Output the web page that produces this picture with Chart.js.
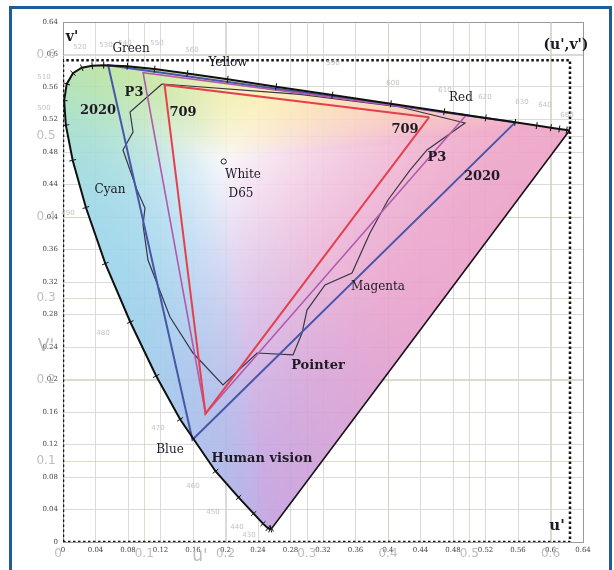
<!DOCTYPE html>
<html>
<head>
<meta charset="utf-8">
<script src="https://cdn.jsdelivr.net/npm/chart.js@4.4.1/dist/chart.umd.min.js"></script>
<style>
  html, body { margin: 0; padding: 0; background: #fff; overflow: hidden; }
  #wrap { position: relative; width: 614px; height: 570px; }
  #frame { position: absolute; left: 9px; top: 6px; width: 597px; height: 620px; border: 3px solid #1d5d9b; }
  canvas { position: absolute; left: 0; top: 0; }
</style>
</head>
<body>
<div id="wrap"><div id="frame"></div><canvas id="c" width="614" height="570"></canvas></div>
<script>
// CIE 1976 spectral locus (u', v') by wavelength in nm
const wavelengths = [380,400,410,420,430,440,450,460,470,475,480,485,490,495,500,505,510,515,520,525,530,540,550,560,570,580,590,600,610,620,630,640,650,660,680,700];
const locusU = [0.2568,0.2557,0.2545,0.2522,0.2461,0.2347,0.2161,0.1877,0.1441,0.1147,0.0828,0.0521,0.0282,0.0119,0.0035,0.0014,0.0046,0.0123,0.0231,0.0360,0.0501,0.0792,0.1127,0.1531,0.2026,0.2623,0.3315,0.4035,0.4692,0.5203,0.5565,0.5830,0.6005,0.6109,0.6199,0.6234];
const locusV = [0.0166,0.0159,0.0159,0.0169,0.0226,0.0350,0.0549,0.0871,0.1510,0.2044,0.2708,0.3427,0.4117,0.4698,0.5131,0.5432,0.5638,0.5770,0.5837,0.5861,0.5868,0.5856,0.5821,0.5766,0.5694,0.5604,0.5501,0.5393,0.5296,0.5219,0.5165,0.5125,0.5099,0.5084,0.5070,0.5065];

// Gamut primaries R, G, B (closed)
const gamut709U  = [0.4507, 0.1250, 0.1754, 0.4507];
const gamut709V  = [0.5229, 0.5625, 0.1579, 0.5229];
const gamutP3U   = [0.4964, 0.0986, 0.1754, 0.4964];
const gamutP3V   = [0.5255, 0.5777, 0.1579, 0.5255];
const gamut2020U = [0.5566, 0.0556, 0.1593, 0.5566];
const gamut2020V = [0.5165, 0.5868, 0.1258, 0.5165];

// Pointer's gamut of real surface colours (closed)
const pointerU = [0.1218,0.0825,0.0862,0.0738,0.0911,0.1009,0.0985,0.1046,0.1317,0.1600,0.1969,0.2388,0.2831,0.2942,0.3003,0.3225,0.3557,0.3778,0.4000,0.4271,0.4480,0.4948,0.4148,0.2917,0.1218];
const pointerV = [0.5637,0.5292,0.5046,0.4825,0.4332,0.4111,0.3902,0.3471,0.2769,0.2326,0.1932,0.2326,0.2302,0.2572,0.2855,0.3163,0.3311,0.3803,0.4209,0.4578,0.4825,0.5157,0.5354,0.5510,0.5637];

// D65 white point
const whiteU = [0.1978];
const whiteV = [0.4683];

// Dotted bounding box of the locus
const boxU = [0, 0.624, 0.624, 0, 0];
const boxV = [0, 0, 0.593, 0.593, 0];

// Axis ticks
const axisMax = 0.64;
const tickStep = 0.04;
const coarseTicks = [0, 0.1, 0.2, 0.3, 0.4, 0.5, 0.6];

// Wavelength marks printed along the locus
const nmLabels = ['520','530','540','550','560','590','600','610','620','630','640','680','510','500','490','480','470','460','450','440','430'];
const nmU = [0.0209,0.0529,0.0763,0.1157,0.1588,0.3323,0.4062,0.4702,0.5194,0.5649,0.5932,0.6203,-0.0234,-0.0234,0.0062,0.0492,0.1169,0.1600,0.1846,0.2142,0.2289];
const nmV = [0.6092,0.6117,0.6142,0.6142,0.6055,0.5895,0.5649,0.5563,0.5477,0.5415,0.5378,0.5255,0.5723,0.5341,0.4049,0.2572,0.1403,0.0689,0.0369,0.0185,0.0086];

// Pastel tint of each locus point used for the shaded fill
const locusTint = [
  [196,160,222],[196,160,222],[196,160,222],[194,162,224],[190,165,226],[185,170,228],[178,176,230],[172,184,232],
  [165,194,235],[160,202,236],[156,208,236],[155,212,235],[157,216,230],[160,219,218],[165,222,204],[170,224,190],
  [174,225,178],[178,226,170],[181,226,166],[184,227,164],[187,228,163],[194,229,163],[205,231,165],[222,235,168],
  [242,240,175],[252,238,180],[252,225,182],[250,210,186],[247,196,190],[243,182,194],[240,170,196],[238,164,197],
  [238,162,197],[238,162,197],[238,162,197],[238,162,197]
];

const pts = (us, vs) => us.map((u, i) => ({ x: u, y: vs[i] }));

// Tick marks across the locus: rotate a short line perpendicular to the curve
const tickRotation = locusU.map((u, i) => {
  const a = Math.max(0, i - 1), b = Math.min(locusU.length - 1, i + 1);
  const ang = Math.atan2(-(locusV[b] - locusV[a]), locusU[b] - locusU[a]);
  return ang * 180 / Math.PI + 90;
});

const serif = '"DejaVu Serif", serif';
const notes = [
  { t: 'Green', u: 0.0837, v: 0.6068, font: '12px ' + serif },
  { t: 'Yellow', u: 0.2031, v: 0.5895, font: '12px ' + serif },
  { t: 'Red', u: 0.4898, v: 0.5465, font: '12px ' + serif },
  { t: '2020', u: 0.0431, v: 0.5305, font: 'bold 13px ' + serif },
  { t: 'P3', u: 0.0874, v: 0.5526, font: 'bold 13px ' + serif },
  { t: '709', u: 0.1477, v: 0.5280, font: 'bold 13px ' + serif },
  { t: '709', u: 0.4209, v: 0.5071, font: 'bold 13px ' + serif },
  { t: 'P3', u: 0.4603, v: 0.4726, font: 'bold 13px ' + serif },
  { t: '2020', u: 0.5157, v: 0.4492, font: 'bold 13px ' + serif },
  { t: 'White', u: 0.2215, v: 0.4517, font: '12px ' + serif },
  { t: 'D65', u: 0.2191, v: 0.4283, font: '12px ' + serif },
  { t: 'Cyan', u: 0.0578, v: 0.4332, font: '12px ' + serif },
  { t: 'Magenta', u: 0.3877, v: 0.3138, font: '12px ' + serif },
  { t: 'Pointer', u: 0.3138, v: 0.2166, font: 'bold 13px ' + serif },
  { t: 'Blue', u: 0.1317, v: 0.1132, font: '12px ' + serif },
  { t: 'Human vision', u: 0.2449, v: 0.1022, font: 'bold 13px ' + serif },
  { t: "v'", u: 0.0111, v: 0.6215, font: 'bold 14px ' + serif },
  { t: "(u',v')", u: 0.6190, v: 0.6117, font: 'bold 14px ' + serif },
  { t: "u'", u: 0.6080, v: 0.0197, font: 'bold 15px ' + serif }
];

const fmt = v => String(parseFloat(v.toFixed(2)));
const near = (a, b) => Math.abs(a - b) < 1e-6;

// Shaded chromaticity fill, clipped to the locus and the line of purples
const chromaFill = {
  id: 'chromaFill',
  beforeDatasetsDraw(chart) {
    const { ctx, chartArea: a, scales: { x, y } } = chart;

    // coarse 0.1 grid
    ctx.save();
    ctx.strokeStyle = 'rgba(205,210,180,0.75)';
    ctx.lineWidth = 1;
    coarseTicks.forEach(t => {
      if (t === 0) return;
      const px = Math.round(x.getPixelForValue(t)) + 0.5;
      const py = Math.round(y.getPixelForValue(t)) + 0.5;
      ctx.beginPath(); ctx.moveTo(px, a.top); ctx.lineTo(px, a.bottom); ctx.stroke();
      ctx.beginPath(); ctx.moveTo(a.left, py); ctx.lineTo(a.right, py); ctx.stroke();
    });
    ctx.restore();

    const P = locusU.map((u, i) => ({ x: x.getPixelForValue(u), y: y.getPixelForValue(locusV[i]), c: locusTint[i] }));
    const wx = x.getPixelForValue(whiteU[0]), wy = y.getPixelForValue(whiteV[0]);
    const n = P.length;
    const BINS = 2048;
    const lutR = new Float32Array(BINS), lutC = new Float32Array(BINS * 3);
    for (let b = 0; b < BINS; b++) {
      const ang = -Math.PI + (b + 0.5) * 2 * Math.PI / BINS;
      const dx = Math.cos(ang), dy = Math.sin(ang);
      let best = Infinity, col = [250, 250, 252];
      for (let i = 0; i < n; i++) {
        const p = P[i], q = P[(i + 1) % n];
        const ex = q.x - p.x, ey = q.y - p.y;
        const den = dx * ey - dy * ex;
        if (Math.abs(den) < 1e-9) continue;
        const px = p.x - wx, py = p.y - wy;
        const t = (px * ey - py * ex) / den;
        const s = (px * dy - py * dx) / den;
        if (t > 0 && s >= 0 && s <= 1 && t < best) {
          best = t;
          let cq = q.c;
          // the line of purples passes through a pink magenta midway
          if (i === n - 1) {
            const mid = [232, 160, 204];
            col = s < 0.5
              ? [0, 1, 2].map(k => p.c[k] + (mid[k] - p.c[k]) * s * 2)
              : [0, 1, 2].map(k => mid[k] + (cq[k] - mid[k]) * (s - 0.5) * 2);
          } else {
            col = [0, 1, 2].map(k => p.c[k] + (cq[k] - p.c[k]) * s);
          }
        }
      }
      lutR[b] = best === Infinity ? 1 : best;
      lutC[b * 3] = col[0]; lutC[b * 3 + 1] = col[1]; lutC[b * 3 + 2] = col[2];
    }
    const W = Math.round(a.right - a.left), H = Math.round(a.bottom - a.top);
    const off = document.createElement('canvas');
    off.width = W; off.height = H;
    const octx = off.getContext('2d');
    const img = octx.createImageData(W, H);
    const d = img.data;
    const base = [248, 246, 252];
    for (let j = 0; j < H; j++) {
      for (let i = 0; i < W; i++) {
        const px = a.left + i + 0.5 - wx, py = a.top + j + 0.5 - wy;
        let b = Math.floor((Math.atan2(py, px) + Math.PI) / (2 * Math.PI) * BINS);
        if (b >= BINS) b = BINS - 1;
        const f = Math.min(1, Math.hypot(px, py) / lutR[b]);
        const e = 1 - Math.pow(1 - f, 1.8);
        const k = (j * W + i) * 4;
        d[k] = base[0] + (lutC[b * 3] - base[0]) * e;
        d[k + 1] = base[1] + (lutC[b * 3 + 1] - base[1]) * e;
        d[k + 2] = base[2] + (lutC[b * 3 + 2] - base[2]) * e;
        d[k + 3] = 255;
      }
    }
    octx.putImageData(img, 0, 0);
    ctx.save();
    ctx.beginPath();
    P.forEach((p, i) => i ? ctx.lineTo(p.x, p.y) : ctx.moveTo(p.x, p.y));
    ctx.closePath();
    ctx.clip();
    ctx.globalAlpha = 0.9;
    ctx.drawImage(off, a.left, a.top);
    ctx.restore();
  }
};

// Text annotations, wavelength marks and the light secondary scale
const annotate = {
  id: 'annotate',
  afterDatasetsDraw(chart) {
    const { ctx, chartArea: a, scales: { x, y } } = chart;
    ctx.save();
    ctx.textAlign = 'center';
    ctx.textBaseline = 'middle';

    ctx.fillStyle = '#c2c2c2';
    ctx.font = '7px "DejaVu Sans", sans-serif';
    nmLabels.forEach((t, i) => ctx.fillText(t, x.getPixelForValue(nmU[i]), y.getPixelForValue(nmV[i])));

    ctx.fillStyle = '#bdbdbd';
    ctx.font = '12px "DejaVu Sans", sans-serif';
    coarseTicks.forEach(t => {
      ctx.fillText(fmt(t), x.getPixelForValue(t) - (t === 0 ? 5 : 0), a.bottom + 12);
      if (t > 0) ctx.fillText(fmt(t), a.left - 17, y.getPixelForValue(t));
    });
    ctx.font = '17px "DejaVu Sans", sans-serif';
    ctx.fillText("V'", a.left - 17, y.getPixelForValue(0.241));
    ctx.fillText("u'", x.getPixelForValue(0.1687), a.bottom + 15);

    ctx.fillStyle = '#1e1a24';
    notes.forEach(nt => {
      ctx.font = nt.font;
      ctx.fillText(nt.t, x.getPixelForValue(nt.u), y.getPixelForValue(nt.v));
    });
    ctx.restore();
  }
};

const line = (label, data, color, width, extra) => Object.assign({
  label, data, showLine: true, borderColor: color, borderWidth: width,
  pointRadius: 0, fill: false, tension: 0
}, extra || {});

new Chart(document.getElementById('c'), {
  type: 'scatter',
  data: {
    datasets: [
      { label: 'D65', data: pts(whiteU, whiteV), pointRadius: 2.6, pointBackgroundColor: '#fff',
        pointBorderColor: '#222', pointBorderWidth: 1 },
      line('Human vision', pts(locusU, locusV), '#111', 2, {
        pointRadius: 3.5, pointStyle: 'line', pointBorderColor: '#111', pointBorderWidth: 1,
        rotation: c => tickRotation[c.dataIndex] || 0
      }),
      line('Line of purples', pts([locusU[locusU.length - 1], locusU[0]], [locusV[locusV.length - 1], locusV[0]]), '#1a1018', 1.6),
      line('Box', pts(boxU, boxV), '#111', 2.5, { borderDash: [2.5, 2.5] }),
      line('709', pts(gamut709U, gamut709V), '#e5404e', 2),
      line('P3', pts(gamutP3U, gamutP3V), '#b25aac', 1.6),
      line('2020', pts(gamut2020U, gamut2020V), '#4856a8', 2),
      line('Pointer', pts(pointerU, pointerV), '#3a3646', 1.2)
    ]
  },
  options: {
    responsive: false,
    animation: false,
    events: [],
    layout: { padding: { left: 10, right: 31, top: 22, bottom: 0 } },
    plugins: { legend: { display: false }, tooltip: { enabled: false } },
    scales: {
      x: {
        type: 'linear', min: 0, max: axisMax,
        afterFit: s => { s.height = 28; },
        ticks: { stepSize: tickStep, padding: 4, color: '#444', font: { size: 7, family: 'DejaVu Serif' },
                 maxRotation: 0, autoSkip: false, callback: v => fmt(v) },
        grid: { drawTicks: false, color: c => near(c.tick.value, axisMax) ? '#9a9a9a' : '#dadada' },
        border: { color: '#9a9a9a' }
      },
      y: {
        type: 'linear', min: 0, max: axisMax,
        afterFit: s => { s.width = 53; },
        ticks: { stepSize: tickStep, padding: 5, color: '#444', font: { size: 7, family: 'DejaVu Serif' },
                 autoSkip: false, callback: v => fmt(v) },
        grid: { drawTicks: false, color: c => near(c.tick.value, axisMax) ? '#9a9a9a' : '#dadada' },
        border: { color: '#9a9a9a' }
      }
    }
  },
  plugins: [chromaFill, annotate]
});
</script>
</body>
</html>
